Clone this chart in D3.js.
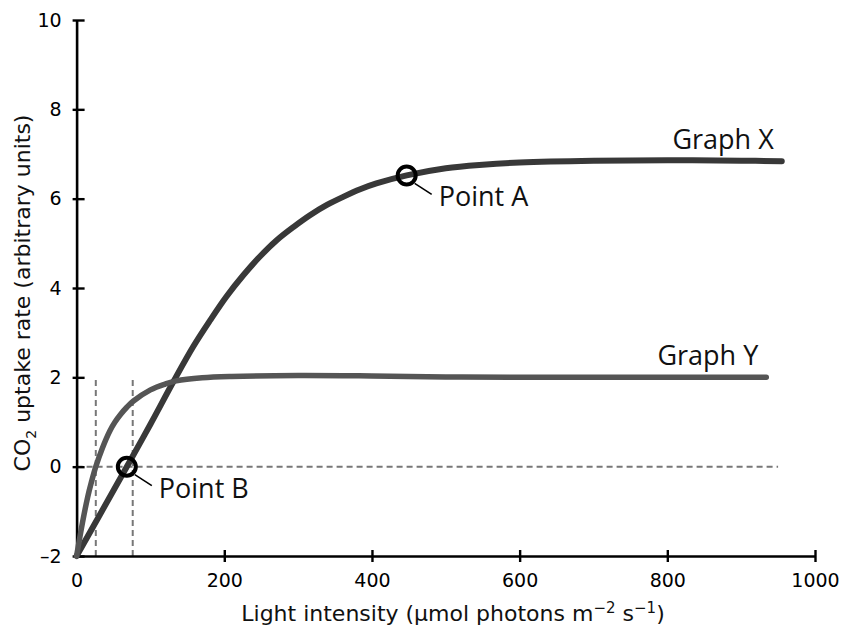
<!DOCTYPE html>
<html>
<head>
<meta charset="utf-8">
<script src="https://cdn.jsdelivr.net/npm/d3@7"></script>
<style>
    html, body { margin: 0; padding: 0; background: #fff; }
    svg { display: block; }
    .tick text { font-family: "DejaVu Sans", sans-serif; font-size: 19px; fill: #000; }
    .axis-title { font-family: "DejaVu Sans", sans-serif; font-size: 22px; fill: #111; }
    .note { font-family: "Open Sans", sans-serif; font-size: 27px; fill: #111; }
</style>
</head>
<body>
<div id="chart"></div>
<script>
// light intensity (µmol photons m-2 s-1) and CO2 uptake
const graphXLight = [0, 30, 68, 100, 131, 158, 181, 203, 226, 248, 271, 294, 316, 339, 361, 384, 406, 447, 500, 550, 600, 700, 800, 900, 955];
const graphXRate  = [-2, -1.12, 0, 0.95, 1.9, 2.69, 3.28, 3.81, 4.29, 4.7, 5.07, 5.37, 5.63, 5.86, 6.04, 6.21, 6.34, 6.52, 6.68, 6.76, 6.81, 6.85, 6.86, 6.85, 6.84];

const graphYLight = [0, 8, 15, 20, 26, 35, 45, 52, 60, 68, 77, 100, 120, 135, 170, 210, 300, 400, 500, 600, 700, 800, 934];
const graphYRate  = [-2, -1.25, -0.68, -0.35, 0, 0.42, 0.8, 1.0, 1.18, 1.33, 1.47, 1.72, 1.85, 1.92, 1.99, 2.02, 2.04, 2.03, 2.01, 2.0, 2.0, 2.0, 2.0];

const seriesNames = ['Graph X', 'Graph Y'];
const pointNames = ['Point A', 'Point B'];
const pointLight = [447, 68];
const pointRate = [6.52, 0];

const compensationLight = [26, 76];   // dashed verticals
const zeroLineEnd = 950;

const xTicks = [0, 200, 400, 600, 800, 1000];
const yTicks = [-2, 0, 2, 4, 6, 8, 10];

const width = 842, height = 628;

const svg = d3.select('#chart').append('svg')
    .attr('width', width)
    .attr('height', height);

const x = d3.scaleLinear().domain([0, 1000]).range([76.6, 815]);
const y = d3.scaleLinear().domain([-2, 10]).range([556, 20]);

const fmt = d => (d < 0 ? '\u2013' + Math.abs(d) : String(d));

// dashed guides
const guides = svg.append('g')
    .attr('fill', 'none')
    .attr('stroke', '#777')
    .attr('stroke-width', 2)
    .attr('stroke-dasharray', '6,4');

guides.append('line')
    .attr('x1', x(0)).attr('x2', x(zeroLineEnd))
    .attr('y1', y(0)).attr('y2', y(0));

guides.selectAll('line.v')
    .data(compensationLight)
    .enter()
    .append('line')
    .attr('class', 'v')
    .attr('x1', d => x(d)).attr('x2', d => x(d))
    .attr('y1', y(-2)).attr('y2', y(2));

// axes
const xAxis = svg.append('g')
    .attr('transform', `translate(0,${y(-2)})`)
    .call(d3.axisBottom(x).tickValues(xTicks).tickFormat(fmt).tickSize(0).tickSizeOuter(0).tickPadding(18));

const yAxis = svg.append('g')
    .attr('transform', `translate(${x(0)},0)`)
    .call(d3.axisLeft(y).tickValues(yTicks).tickFormat(fmt).tickSize(0).tickSizeOuter(0).tickPadding(15));

[xAxis, yAxis].forEach(a => {
    a.select('.domain').attr('stroke', '#000').attr('stroke-width', 2.6);
    a.selectAll('.tick line').attr('stroke', '#000').attr('stroke-width', 2.4);
});
xAxis.selectAll('.tick line').attr('y1', -6).attr('y2', 6);
yAxis.selectAll('.tick line').attr('x1', -4).attr('x2', 8);
xAxis.selectAll('.tick').filter(d => d === 0).select('line').remove();

// curves
const line = d3.line()
    .x(d => x(d[0]))
    .y(d => y(d[1]))
    .curve(d3.curveCatmullRom.alpha(0.5));

const curves = [
    { name: seriesNames[0], pts: d3.zip(graphXLight, graphXRate), color: '#383838', w: 6 },
    { name: seriesNames[1], pts: d3.zip(graphYLight, graphYRate), color: '#555', w: 5.5 },
];

svg.append('g')
    .selectAll('path')
    .data(curves)
    .enter()
    .append('path')
    .attr('d', d => line(d.pts))
    .attr('fill', 'none')
    .attr('stroke', d => d.color)
    .attr('stroke-width', d => d.w)
    .attr('stroke-linecap', 'round');

svg.append('g')
    .selectAll('text')
    .data(curves)
    .enter()
    .append('text')
    .attr('class', 'note')
    .attr('text-anchor', 'end')
    .attr('x', d => x(d.pts[d.pts.length - 1][0]) - 8)
    .attr('y', d => y(d.pts[d.pts.length - 1][1]) - 12)
    .text(d => d.name);

// marked points
const points = svg.append('g')
    .selectAll('g')
    .data(d3.zip(pointNames, pointLight, pointRate))
    .enter()
    .append('g')
    .attr('transform', d => `translate(${x(d[1])},${y(d[2])})`);

points.append('circle')
    .attr('r', 9)
    .attr('fill', 'none')
    .attr('stroke', '#000')
    .attr('stroke-width', 4);

points.append('line')
    .attr('x1', 8).attr('y1', 8)
    .attr('x2', 25).attr('y2', 19)
    .attr('stroke', '#000')
    .attr('stroke-width', 1.6);

points.append('text')
    .attr('class', 'note')
    .attr('x', 32)
    .attr('y', 31)
    .text(d => d[0]);

// axis titles
const xt = svg.append('text')
    .attr('class', 'axis-title')
    .attr('text-anchor', 'middle')
    .attr('x', 453)
    .attr('y', 621);
xt.append('tspan').text('Light intensity (\u00b5mol photons m');
xt.append('tspan').attr('dy', -8).attr('font-size', 15).text('\u22122');
xt.append('tspan').attr('dy', 8).text(' s');
xt.append('tspan').attr('dy', -8).attr('font-size', 15).text('\u22121');
xt.append('tspan').attr('dy', 8).text(')');

const yt = svg.append('text')
    .attr('class', 'axis-title')
    .attr('text-anchor', 'middle')
    .attr('transform', 'translate(30,293) rotate(-90)');
yt.append('tspan').text('CO');
yt.append('tspan').attr('dy', 6).attr('font-size', 14).text('2');
yt.append('tspan').attr('dy', -6).text(' uptake rate (arbitrary units)');
</script>
</body>
</html>
